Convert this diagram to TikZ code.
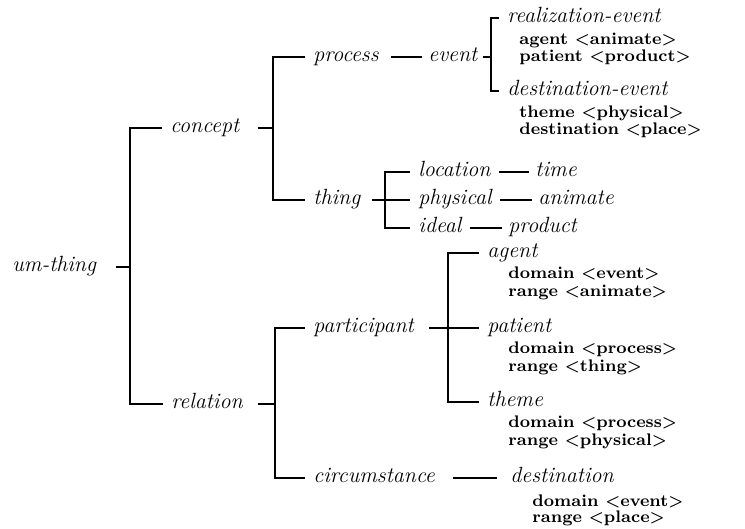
\documentclass[tikz,border=0pt]{standalone}
\tikzset{
  lbl/.style={inner sep=0pt, anchor=west, text height=1ex, text depth=0pt,
    font=\fontsize{11}{13}\selectfont\itshape},
  attr/.style={inner sep=0pt, anchor=west, text height=1ex, text depth=0pt,
    font=\fontsize{8.4}{10}\selectfont\bfseries},
  branch/.style={line width=0.9pt, shorten <=4pt, shorten >=4pt},
  stub/.style={line width=0.9pt},
  chain/.style={line width=0.9pt, shorten <=4pt, shorten >=3pt},
}

\begin{document}
\begin{tikzpicture}[x=0.5pt, y=-0.5pt]
      \useasboundingbox (0,0) rectangle (745,529);

      % Top level
      \node[lbl] (umthing) at (12,267) {um-thing};
      \node[lbl] (concept) at (170,128) {concept};
      \node[lbl] (relation) at (171,404) {relation};

      % Concept side
      \node[lbl] (process) at (313,57) {process};
      \node[lbl] (event) at (428,57) {event};
      \node[lbl] (realization) at (507,18) {realization-event};
      \node[attr] (realagent) at (519,40) {agent \textless animate\textgreater};
      \node[attr] (realpatient) at (519,57) {patient \textless product\textgreater};
      \node[lbl] (destevent) at (507,91) {destination-event};
      \node[attr] (desttheme) at (519,113) {theme \textless physical\textgreater};
      \node[attr] (destplace) at (519,130) {destination \textless place\textgreater};

      \node[lbl] (thing) at (313,200) {thing};
      \node[lbl] (location) at (418,172) {location};
      \node[lbl] (time) at (535,172) {time};
      \node[lbl] (physical) at (418,200) {physical};
      \node[lbl] (animate) at (538,200) {animate};
      \node[lbl] (ideal) at (418,228) {ideal};
      \node[lbl] (product) at (508,228) {product};

      % Relation side
      \node[lbl] (participant) at (313,328) {participant};
      \node[lbl] (agent) at (487,253) {agent};
      \node[attr] (agentdom) at (508,274) {domain \textless event\textgreater};
      \node[attr] (agentran) at (508,292) {range \textless animate\textgreater};
      \node[lbl] (patient) at (487,328) {patient};
      \node[attr] (patientdom) at (508,349) {domain \textless process\textgreater};
      \node[attr] (patientran) at (508,367) {range \textless thing\textgreater};
      \node[lbl] (theme) at (487,402) {theme};
      \node[attr] (themedom) at (508,423) {domain \textless process\textgreater};
      \node[attr] (themeran) at (508,441) {range \textless physical\textgreater};

      \node[lbl] (circumstance) at (313,478) {circumstance};
      \node[lbl] (destination) at (510,478) {destination};
      \node[attr] (destdom) at (532,502) {domain \textless event\textgreater};
      \node[attr] (destran) at (532,518) {range \textless place\textgreater};

      % Bars of the brackets
      \coordinate (bumthing) at (130,267);
      \coordinate (bconcept) at (273,128);
      \coordinate (bevent) at (491,57);
      \coordinate (bthing) at (385,200);
      \coordinate (brelation) at (275,404);
      \coordinate (bparticipant) at (448,328);

      % Brackets
      \draw[stub, shorten <=10pt] (umthing.east) -- (bumthing);
      \draw[branch] (concept.west) -| (bumthing) |- (relation.west);

      \draw[stub, shorten <=9pt] (concept.east) -- (bconcept);
      \draw[branch] (process.west) -| (bconcept) |- (thing.west);

      \draw[stub, shorten <=2.5pt] (event.east) -- (bevent);
      \draw[branch] (realization.west) -| (bevent) |- (destevent.west);

      \draw[branch, shorten <=5.5pt] (thing.east) -- (physical.west);
      \draw[branch] (location.west) -| (bthing) |- (ideal.west);

      \draw[stub, shorten <=7.5pt] (relation.east) -- (brelation);
      \draw[branch] (participant.west) -| (brelation) |- (circumstance.west);

      \draw[branch, shorten <=7.5pt] (participant.east) -- (patient.west);
      \draw[branch] (agent.west) -| (bparticipant) |- (theme.west);

      % Single links
      \draw[chain, shorten <=6pt] (process) -- (event);
      \draw[chain] (location) -- (time);
      \draw[chain] (physical) -- (animate);
      \draw[chain] (ideal) -- (product);
      \draw[chain, shorten <=9pt, shorten >=6.5pt] (circumstance) -- (destination);
\end{tikzpicture}
\end{document}
